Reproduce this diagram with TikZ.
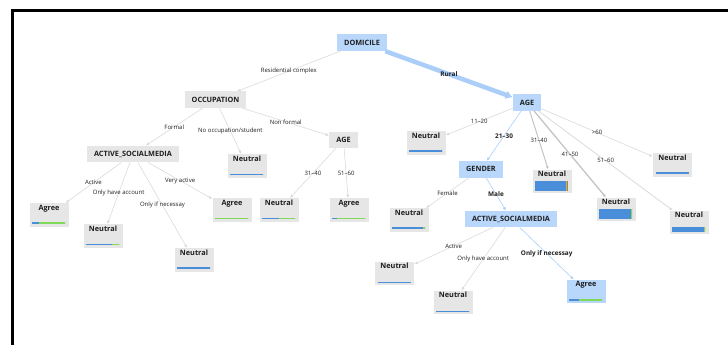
\documentclass[tikz,border=0pt]{standalone}
\usepackage{fontspec}
\setmainfont{Open Sans}
\usepackage{tikz}
\usetikzlibrary{calc,arrows.meta,positioning}
\definecolor{treeGray}{RGB}{230,230,230}
\definecolor{treeBlue}{RGB}{184,215,251}
\definecolor{edgeGray}{RGB}{218,218,218}
\definecolor{edgeGrayDark}{RGB}{196,196,196}
\definecolor{edgeBlue}{RGB}{170,206,248}
\definecolor{barBlue}{RGB}{74,142,218}
\definecolor{barGreen}{RGB}{128,218,90}
\definecolor{barRed}{RGB}{232,96,76}
\definecolor{txtDark}{RGB}{30,30,30}

% class bar at the foot of a leaf: leaf, blue, green, red, thickness (pt)
\newcommand{\votebar}[5]{%
  \fill[barBlue] ($(#1.south west)+(3pt,2.5pt)$) rectangle ++(#2pt,#5pt);
  \fill[barGreen] ($(#1.south west)+(3pt+#2pt,2.5pt)$) rectangle ++(#3pt,#5pt);
  \fill[barRed] ($(#1.south west)+(3pt+#2pt+#3pt,2.5pt)$) rectangle ++(#4pt,#5pt);
}

\begin{document}
\begin{tikzpicture}[x=1pt,y=-1pt,
    split/.style={fill=treeGray, text=txtDark, font=\fontsize{7.3}{8}\selectfont\bfseries,
        minimum height=16.5pt, inner xsep=7pt, inner ysep=0pt},
    splitpath/.style={split, fill=treeBlue},
    leaf/.style={fill=treeGray, text=txtDark, font=\fontsize{7.3}{8}\selectfont\bfseries,
        minimum width=39pt, inner xsep=0pt, inner ysep=1.5pt, text height=5.5pt, text depth=15pt},
    leafpath/.style={leaf, fill=treeBlue},
    edge/.style={draw=edgeGray, line width=0.6pt, -{Latex[length=3.5pt,width=3pt]}},
    edgepath/.style={edge, draw=edgeBlue},
    lbl/.style={midway, text=txtDark, font=\fontsize{6}{7}\selectfont, inner sep=0.5pt},
    lblpath/.style={lbl, font=\fontsize{6.4}{7}\selectfont\bfseries}]

    \useasboundingbox (0,0) rectangle (728,345);
    \draw[line width=2.7pt] (12.2,345) -- (12.2,10.7) -- (728,10.7);

    % split nodes
    \node[splitpath] (domicile) at (362,42.7) {DOMICILE};
    \node[split] (occupation) at (215.5,99.7) {OCCUPATION};
    \node[splitpath] (ageRural) at (527,102.5) {AGE};
    \node[split] (socialFormal) at (133,154) {ACTIVE\_SOCIALMEDIA};
    \node[split] (ageNonformal) at (343.5,140) {AGE};
    \node[splitpath] (gender) at (481,169.3) {GENDER};
    \node[splitpath] (socialMale) at (511,219) {ACTIVE\_SOCIALMEDIA};

    % leaves
    \node[leaf] (neutStudent) at (247,166) {Neutral};
    \node[leaf] (agreeActive) at (49,215) {Agree};
    \node[leaf] (neutAccount) at (103,236) {Neutral};
    \node[leaf] (neutNecessary) at (194,260) {Neutral};
    \node[leaf] (agreeVeryActive) at (232,210) {Agree};
    \node[leaf] (neutThirty) at (279,210) {Neutral};
    \node[leaf] (agreeFifty) at (349,210) {Agree};
    \node[leaf] (neutTeen) at (426,143) {Neutral};
    \node[leaf] (neutThirtyR) at (552,181.5) {Neutral};
    \node[leaf] (neutFortyR) at (616,209.5) {Neutral};
    \node[leaf] (neutFiftyR) at (689,222.5) {Neutral};
    \node[leaf] (neutSixtyR) at (672.5,165) {Neutral};
    \node[leaf] (neutFemale) at (409,220) {Neutral};
    \node[leaf] (neutActiveM) at (394.5,273.5) {Neutral};
    \node[leaf] (neutAccountM) at (453,302.5) {Neutral};
    \node[leafpath] (agreeNecessaryM) at (586,291.5) {Agree};

    \votebar{neutStudent}{33}{0}{0}{1.2}
    \votebar{agreeActive}{6.6}{26.4}{0}{2}
    \votebar{neutAccount}{25.7}{7.3}{0}{1.5}
    \votebar{neutNecessary}{33}{0}{0}{2}
    \votebar{agreeVeryActive}{0}{33}{0}{1.5}
    \votebar{neutThirty}{16.5}{16.5}{0}{1.2}
    \votebar{agreeFifty}{5}{28}{0}{1.8}
    \votebar{neutTeen}{33}{0}{0}{2.8}
    \votebar{neutThirtyR}{30.5}{1.3}{1.2}{9.5}
    \votebar{neutFortyR}{32}{1}{0}{10}
    \votebar{neutFiftyR}{31.7}{1.3}{0}{5}
    \votebar{neutSixtyR}{33}{0}{0}{2}
    \votebar{neutFemale}{30.5}{2.5}{0}{2.5}
    \votebar{neutActiveM}{33}{0}{0}{1}
    \votebar{neutAccountM}{33}{0}{0}{1}
    \votebar{agreeNecessaryM}{10}{23}{0}{1.5}

    % edges
    \draw[edge] (domicile) -- node[lbl] (lResidential) {Residential complex} (occupation);
    \draw[edgepath, line width=4.5pt, -{Latex[length=7pt,width=9pt]}] (domicile) -- node[lblpath] (lRural) {Rural} (ageRural);

    \draw[edge] (occupation) -- node[lbl] (lFormal) {Formal} (socialFormal);
    \draw[edge] (occupation) -- node[lbl] (lStudent) {No occupation/student} (neutStudent);
    \draw[edge] (occupation) -- node[lbl] (lNonformal) {Non formal} (ageNonformal);

    \draw[edge] (socialFormal) -- node[lbl] (lActive) {Active} (agreeActive);
    \draw[edge] (socialFormal) -- node[lbl] (lAccount) {Only have account} (neutAccount);
    \draw[edge] (socialFormal) -- node[lbl] (lNecessary) {Only if necessay} (neutNecessary);
    \draw[edge] (socialFormal) -- node[lbl] (lVeryActive) {Very active} (agreeVeryActive);

    \draw[edge] (ageNonformal) -- node[lbl] (lThirty) {31–40} (neutThirty);
    \draw[edge] (ageNonformal) -- node[lbl] (lFifty) {51–60} (agreeFifty);

    \draw[edge] (ageRural) -- node[lbl] (lTeen) {11–20} (neutTeen);
    \draw[edgepath] (ageRural) -- node[lblpath] (lTwenty) {21–30} (gender);
    \draw[edge, draw=edgeGrayDark, line width=1pt] (ageRural) -- node[lbl] (lThirtyR) {31–40} (neutThirtyR);
    \draw[edge, draw=edgeGrayDark, line width=1.3pt] (ageRural) -- node[lbl] (lFortyR) {41–50} (neutFortyR);
    \draw[edge, line width=0.8pt] (ageRural) -- node[lbl] (lFiftyR) {51–60} (neutFiftyR);
    \draw[edge] (ageRural) -- node[lbl] (lSixtyR) {>60} (neutSixtyR);

    \draw[edge] (gender) -- node[lbl] (lFemale) {Female} (neutFemale);
    \draw[edgepath] (gender) -- node[lblpath] (lMale) {Male} (socialMale);

    \draw[edge] (socialMale) -- node[lbl] (lActiveM) {Active} (neutActiveM);
    \draw[edge] (socialMale) -- node[lbl] (lAccountM) {Only have account} (neutAccountM);
    \draw[edgepath] (socialMale) -- node[lblpath] (lNecessaryM) {Only if necessay} (agreeNecessaryM);
\end{tikzpicture}
\end{document}
